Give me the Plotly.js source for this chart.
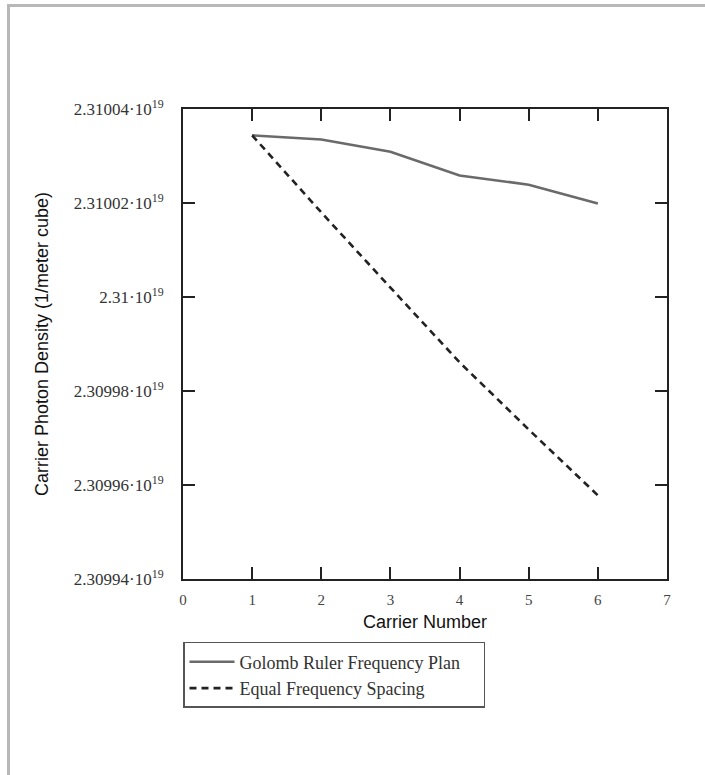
<!DOCTYPE html>
<html>
<head>
<meta charset="utf-8">
<script src="https://cdn.plot.ly/plotly-3.0.1.min.js"></script>
<style>
  html, body { margin: 0; padding: 0; background: #fff; overflow: hidden; }
  #wrap { position: relative; width: 705px; height: 775px; overflow: hidden; }
  #chart { width: 705px; height: 775px; }
  #frame {
    position: absolute; left: 7px; top: 4px; width: 700px; height: 780px;
    border-left: 3px solid #b8b8b8; border-top: 3px solid #b8b8b8;
    pointer-events: none;
  }
</style>
</head>
<body>
<div id="wrap">
  <div id="chart"></div>
  <div id="frame"></div>
</div>
<script>
// Carrier index for each optical carrier
const carriers = [1, 2, 3, 4, 5, 6];

// Carrier photon density (1/m^3) for the two frequency plans
const golombDensity = [2.3100344e19, 2.3100335e19, 2.3100309e19, 2.31002585e19, 2.3100239e19, 2.3100199e19];
const equalDensity  = [2.3100344e19, 2.3100180e19, 2.3100020e19, 2.3099861e19, 2.3099718e19, 2.3099578e19];

// Y tick positions and their labels
const yTickVals = [2.30994e19, 2.30996e19, 2.30998e19, 2.31e19, 2.31002e19, 2.31004e19];
const yTickText = ["2.30994", "2.30996", "2.30998", "2.31", "2.31002", "2.31004"]
  .map(m => m + "\u00b710<sup>19</sup>");

// X tick positions
const xTickVals = [0, 1, 2, 3, 4, 5, 6, 7];

const traces = [
  {
    x: carriers, y: golombDensity, type: "scatter", mode: "lines",
    name: "Golomb Ruler Frequency Plan\u00a0\u00a0\u00a0\u00a0",
    line: { color: "#6a6a6a", width: 2.6 }
  },
  {
    x: carriers, y: equalDensity, type: "scatter", mode: "lines",
    name: "Equal Frequency Spacing",
    line: { color: "#222222", width: 2.6, dash: "7px,5px" }
  }
];

const axisCommon = {
  showgrid: false, zeroline: false,
  showline: true, linecolor: "#222", linewidth: 2, mirror: "ticks",
  ticks: "inside", ticklen: 12, tickwidth: 2, tickcolor: "#222"
};

const layout = {
  width: 705, height: 775,
  margin: { l: 183, r: 38, t: 109, b: 196 },
  paper_bgcolor: "#fff", plot_bgcolor: "#fff",
  showlegend: true,
  xaxis: Object.assign({}, axisCommon, {
    range: [0, 7], tickvals: xTickVals,
    tickfont: { family: "Liberation Serif", size: 15, color: "#444" },
    ticklabelstandoff: 6,
    title: { text: "Carrier Number", font: { family: "Liberation Sans", size: 18, color: "#111" }, standoff: 8 }
  }),
  yaxis: Object.assign({}, axisCommon, {
    range: [2.30994e19, 2.31004e19], tickvals: yTickVals, ticktext: yTickText,
    tickfont: { family: "Liberation Serif", size: 17, color: "#333" },
    ticklabelstandoff: 14,
    title: { text: "Carrier Photon Density (1/meter cube)", font: { family: "Liberation Sans", size: 18, color: "#111" }, standoff: 20 }
  }),
  legend: {
    x: 0, xanchor: "left", y: -0.134, yanchor: "top",
    bgcolor: "#fff", bordercolor: "#555", borderwidth: 1.5,
    font: { family: "Liberation Serif", size: 18, color: "#333" },
    itemwidth: 45,
    tracegroupgap: 0
  }
};

Plotly.newPlot("chart", traces, layout, { staticPlot: true, displayModeBar: false });
</script>
</body>
</html>
